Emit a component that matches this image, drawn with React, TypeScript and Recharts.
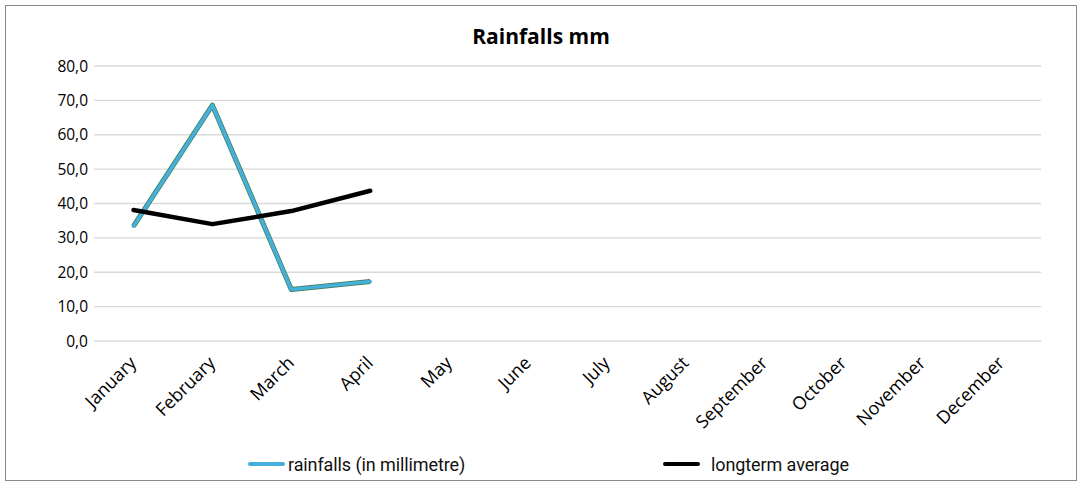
import { LineChart, Line, XAxis, YAxis, CartesianGrid, Legend } from "recharts";

const months = [
  "January", "February", "March", "April", "May", "June",
  "July", "August", "September", "October", "November", "December",
];
const rainfall = [33.4, 68.6, 15.0, 17.3];
const longterm = [38.1, 34.0, 37.8, 43.7];
const yTicks = [0, 10, 20, 30, 40, 50, 60, 70, 80];

const data = months.map((m, i) => ({
  month: m,
  rain: rainfall[i] ?? null,
  avg: longterm[i] ?? null,
}));

const BLUE = "#46afdc";
const font = "'Open Sans', 'Noto Sans', sans-serif";

function MonthTick({ x, y, payload }: any) {
  const ex = x + 4;
  const ey = y + 15;
  return (
    <text
      x={ex}
      y={ey}
      transform={`rotate(-45, ${ex}, ${ey})`}
      textAnchor="end"
      fontSize={18}
      fontFamily={font}
      fill="#000"
    >
      {payload.value}
    </text>
  );
}

function LegendBox() {
  const item = (left: number, color: string, label: string, gap: number) => (
    <div style={{ position: "absolute", left, top: 0, display: "flex", alignItems: "center", height: 26 }}>
      <div style={{ width: 37, height: 4, background: color, borderRadius: 2 }} />
      <span
        style={{
          marginLeft: gap,
          fontFamily: "'Roboto', sans-serif",
          fontSize: 18,
          letterSpacing: -0.1,
          color: "#111",
        }}
      >
        {label}
      </span>
    </div>
  );
  return (
    <div style={{ position: "relative", height: 26, width: 1000 }}>
      {item(242, BLUE, "rainfalls (in millimetre)", 3)}
      {item(657, "#000", "longterm average", 11)}
    </div>
  );
}

export default function App() {
  return (
    <div
      style={{
        position: "absolute",
        left: 5,
        top: 5,
        width: 1072,
        height: 476,
        boxSizing: "border-box",
        border: "1px solid #8a8a8a",
        background: "#fff",
      }}
    >
      <div
        style={{
          position: "absolute",
          left: 0,
          right: 0,
          top: 16,
          textAlign: "center",
          fontFamily: font,
          fontWeight: 700,
          fontSize: 21,
          color: "#000",
        }}
      >
        Rainfalls mm
      </div>
      <LineChart width={1070} height={474} data={data} margin={{ top: 60, right: 35, left: 0, bottom: 3 }}>
        <CartesianGrid vertical={false} stroke="#d9d9d9" strokeWidth={1.3} />
        <XAxis
          dataKey="month"
          axisLine={false}
          tickLine={false}
          interval={0}
          height={110}
          padding={{ left: 39.5, right: 39.5 }}
          tick={<MonthTick />}
        />
        <YAxis
          width={88}
          domain={[0, 80]}
          ticks={yTicks}
          axisLine={false}
          tickLine={false}
          tickFormatter={(v: number) => v.toFixed(1).replace(".", ",")}
          tick={{ fontSize: 15.5, fontFamily: font, fill: "#000", dx: 2 }}
        />
        <Legend verticalAlign="bottom" height={26} content={() => <LegendBox />} />
        <Line dataKey="rain" stroke="#3d7a4a" strokeWidth={5} dot={false} isAnimationActive={false} legendType="none" strokeLinejoin="round" />
        <Line dataKey="rain" stroke={BLUE} strokeWidth={3.6} dot={false} isAnimationActive={false} legendType="none" strokeLinejoin="round" strokeLinecap="round" />
        <Line dataKey="avg" stroke="#000" strokeWidth={4.5} dot={false} isAnimationActive={false} legendType="none" strokeLinejoin="round" strokeLinecap="round" />
      </LineChart>
    </div>
  );
}
